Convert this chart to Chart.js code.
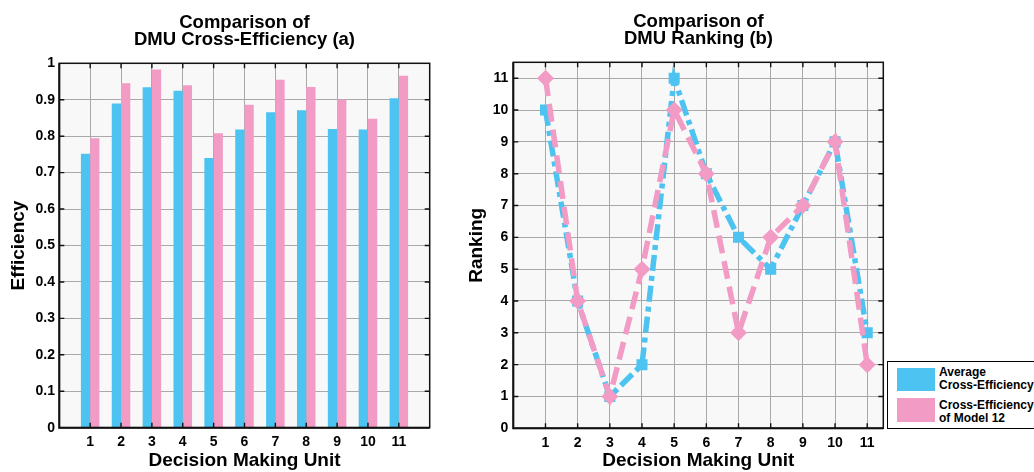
<!DOCTYPE html>
<html>
<head>
<meta charset="utf-8">
<script src="https://cdn.jsdelivr.net/npm/chart.js@4.4.1/dist/chart.umd.min.js"></script>
<style>
html,body{margin:0;padding:0;background:#fff;}
#wrap{position:relative;width:1034px;height:472px;overflow:hidden;background:#fff;}
#wrap canvas{position:absolute;top:0;}
.lg{position:absolute;font-family:Arial,'Liberation Sans',Helvetica,sans-serif;font-weight:bold;font-size:12px;line-height:13.4px;color:#000;white-space:nowrap;}
.sw{position:absolute;}
#legendBox{position:absolute;left:887px;top:361px;width:170px;height:68px;box-sizing:border-box;border:1.5px solid #000;background:#fff;}
</style>
</head>
<body>
<div id="wrap">
  <canvas id="c1" width="489" height="472" style="left:0px"></canvas>
  <canvas id="c2" width="477" height="472" style="left:460px"></canvas>
  <div id="legendBox"></div>
  <div class="sw" id="sw1" style="left:897px;top:368px;width:38px;height:23px;"></div>
  <div class="lg" style="left:939px;top:366px;">Average<br>Cross-Efficiency</div>
  <div class="sw" id="sw2" style="left:897px;top:398px;width:38px;height:24px;"></div>
  <div class="lg" style="left:939px;top:398.6px;">Cross-Efficiency<br>of Model 12</div>
</div>
<script>
// ---- data ----
const dmuLabels = ['1','2','3','4','5','6','7','8','9','10','11'];
const avgCrossEfficiency = [0.752, 0.890, 0.934, 0.925, 0.740, 0.818, 0.866, 0.871, 0.820, 0.818, 0.904];
const model12CrossEfficiency = [0.794, 0.945, 0.983, 0.940, 0.808, 0.886, 0.955, 0.935, 0.901, 0.848, 0.966];
const avgRanking = [10, 4, 1, 2, 11, 8, 6, 5, 7, 9, 3];
const model12Ranking = [11, 4, 1, 5, 10, 8, 3, 6, 7, 9, 2];
const seriesNames = ['Average Cross-Efficiency', 'Cross-Efficiency of Model 12'];

// ---- style ----
const BLUE = '#4CC3F0';
const PINK = '#F29BC4';
const GRID = '#a9a9a9';
const FONT = "Arial, 'Liberation Sans', Helvetica, sans-serif";
document.getElementById('sw1').style.background = BLUE;
document.getElementById('sw2').style.background = PINK;

const matlabFrame = {
  id: 'matlabFrame',
  beforeDraw(chart) {
    const {ctx, chartArea: a} = chart;
    ctx.save();
    ctx.fillStyle = '#f7f8f7';
    ctx.fillRect(a.left, a.top, a.right - a.left, a.bottom - a.top);
    ctx.restore();
  },
  afterDraw(chart) {
    const {ctx, chartArea: a, scales} = chart;
    const T = 5;
    ctx.save();
    ctx.strokeStyle = '#111';
    ctx.lineWidth = 1.4;
    const xs = scales.x, ys = scales.y;
    xs.ticks.forEach((t, i) => {
      const px = xs.getPixelForTick(i);
      if (px <= a.left + 1 || px >= a.right - 1) return;
      ctx.beginPath();
      ctx.moveTo(px, a.bottom); ctx.lineTo(px, a.bottom - T);
      ctx.moveTo(px, a.top); ctx.lineTo(px, a.top + T);
      ctx.stroke();
    });
    ys.ticks.forEach((t, i) => {
      const py = ys.getPixelForTick(i);
      if (py <= a.top + 1 || py >= a.bottom - 1) return;
      ctx.beginPath();
      ctx.moveTo(a.left, py); ctx.lineTo(a.left + T, py);
      ctx.moveTo(a.right, py); ctx.lineTo(a.right - T, py);
      ctx.stroke();
    });
    ctx.lineWidth = 1.5;
    ctx.strokeRect(a.left, a.top, a.right - a.left, a.bottom - a.top);
    ctx.lineWidth = 2;
    ctx.beginPath();
    ctx.moveTo(a.left, a.top); ctx.lineTo(a.left, a.bottom); ctx.lineTo(a.right, a.bottom);
    ctx.stroke();
    ctx.restore();
  }
};

const tickFont = {family: FONT, size: 14, weight: 'bold'};
const axisTitleFont = {family: FONT, size: 19, weight: 'bold', lineHeight: 1};
const titleFont = {family: FONT, size: 18.5, weight: 'bold', lineHeight: 0.9};

// invisible right-side spacer axis so the title centres over the plot area
function spacerAxis(w) {
  return {
    axis: 'y', position: 'right', display: true,
    grid: {display: false, drawTicks: false}, border: {display: false},
    ticks: {display: false}, title: {display: false},
    afterFit(s) { s.width = w; }
  };
}

// ---- chart (a) ----
new Chart(document.getElementById('c1'), {
  type: 'bar',
  data: {
    labels: ['', ...dmuLabels, ''],
    datasets: [
      {label: seriesNames[0], data: [null, ...avgCrossEfficiency, null], backgroundColor: BLUE, borderWidth: 0, categoryPercentage: 0.6, barPercentage: 1.0},
      {label: seriesNames[1], data: [null, ...model12CrossEfficiency, null], backgroundColor: PINK, borderWidth: 0, categoryPercentage: 0.6, barPercentage: 1.0}
    ]
  },
  options: {
    responsive: false, animation: false, devicePixelRatio: 1,
    layout: {padding: 0},
    plugins: {
      legend: {display: false}, tooltip: {enabled: false},
      title: {display: true, text: ['Comparison of', 'DMU Cross-Efficiency (a)'], color: '#000', font: titleFont, padding: {top: 15, bottom: 15}}
    },
    scales: {
      x: {
        type: 'category', offset: false,
        grid: {offset: false, color: GRID, lineWidth: 1, drawTicks: false},
        border: {display: false},
        ticks: {color: '#000', font: tickFont, padding: 6, maxRotation: 0, autoSkip: false},
        title: {display: true, text: 'Decision Making Unit', color: '#000', font: axisTitleFont, padding: {top: 0, bottom: 1.5}},
        afterFit(s) { s.height = 44.3; }
      },
      y: {
        min: 0, max: 1,
        grid: {color: GRID, lineWidth: 1, drawTicks: false},
        border: {display: false},
        ticks: {stepSize: 0.1, color: '#000', font: tickFont, padding: 4.3,
                callback: v => String(Number(Number(v).toFixed(1)))},
        title: {display: true, text: 'Efficiency', color: '#000', font: axisTitleFont, padding: {top: 9, bottom: 0}},
        afterFit(s) { s.width = 59.3; }
      },
      yr: spacerAxis(59.3)
    }
  },
  plugins: [matlabFrame]
});

// ---- chart (b) ----
new Chart(document.getElementById('c2'), {
  type: 'line',
  data: {
    datasets: [
      {label: seriesNames[0], data: avgRanking.map((r, i) => ({x: Number(dmuLabels[i]), y: r})),
       order: 1, borderColor: BLUE, backgroundColor: BLUE, borderWidth: 5.5, borderDash: [16, 5, 5, 5], borderCapStyle: 'butt',
       tension: 0, fill: false, pointStyle: 'rect', pointRadius: 7.8, pointBackgroundColor: BLUE, pointBorderWidth: 0},
      {label: seriesNames[1], data: model12Ranking.map((r, i) => ({x: Number(dmuLabels[i]), y: r})),
       order: 0, borderColor: PINK, backgroundColor: PINK, borderWidth: 5.5, borderDash: [18, 8], borderCapStyle: 'butt',
       tension: 0, fill: false, pointStyle: 'rectRot', pointRadius: 8.5, pointBackgroundColor: PINK, pointBorderWidth: 0}
    ]
  },
  options: {
    responsive: false, animation: false, devicePixelRatio: 1,
    layout: {padding: 0},
    plugins: {
      legend: {display: false}, tooltip: {enabled: false},
      title: {display: true, text: ['Comparison of', 'DMU Ranking (b)'], color: '#000', font: titleFont, padding: {top: 14, bottom: 15}}
    },
    scales: {
      x: {
        type: 'linear', min: 0, max: 11.5,
        grid: {color: GRID, lineWidth: 1, drawTicks: false},
        border: {display: false},
        ticks: {stepSize: 1, includeBounds: false, color: '#000', font: tickFont, padding: 6, maxRotation: 0, autoSkip: false,
                callback: v => (v === 0 ? '' : String(v))},
        title: {display: true, text: 'Decision Making Unit', color: '#000', font: axisTitleFont, padding: {top: 0, bottom: 1.5}},
        afterFit(s) { s.height = 43.7; }
      },
      y: {
        min: 0, max: 11.5,
        grid: {color: GRID, lineWidth: 1, drawTicks: false},
        border: {display: false},
        ticks: {stepSize: 1, includeBounds: false, color: '#000', font: tickFont, padding: 5},
        title: {display: true, text: 'Ranking', color: '#000', font: axisTitleFont, padding: {top: 7, bottom: 0}},
        afterFit(s) { s.width = 53.3; }
      },
      yr: spacerAxis(53.7)
    }
  },
  plugins: [matlabFrame]
});
</script>
</body>
</html>
